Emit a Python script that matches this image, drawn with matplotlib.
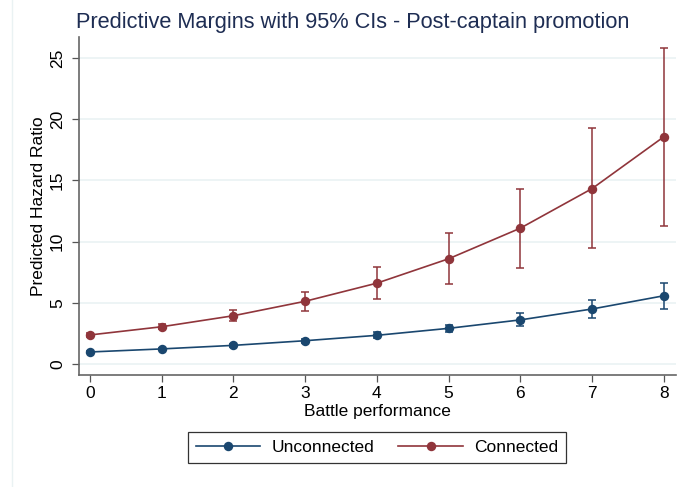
import matplotlib
matplotlib.use("Agg")
import matplotlib.pyplot as plt
from matplotlib.lines import Line2D

plt.rcParams['font.family'] = ['Liberation Sans', 'DejaVu Sans']

x = [0, 1, 2, 3, 4, 5, 6, 7, 8]
unconn = [0.98, 1.23, 1.52, 1.90, 2.34, 2.91, 3.60, 4.49, 5.57]
unconn_lo = [0.90, 1.15, 1.40, 1.74, 2.12, 2.58, 3.10, 3.73, 4.52]
unconn_hi = [1.07, 1.32, 1.65, 2.07, 2.58, 3.22, 4.13, 5.23, 6.60]
conn = [2.37, 3.04, 3.94, 5.12, 6.60, 8.59, 11.09, 14.32, 18.55]
conn_lo = [2.20, 2.86, 3.48, 4.35, 5.32, 6.50, 7.85, 9.43, 11.25]
conn_hi = [2.55, 3.23, 4.40, 5.88, 7.89, 10.67, 14.32, 19.24, 25.80]
series_names = ["Unconnected", "Connected"]
yticks = [0, 5, 10, 15, 20, 25]
title = "Predictive Margins with 95% CIs - Post-captain promotion"

navy = "#1a476f"
maroon = "#90353b"
grid_c = "#eaf2f3"

fig = plt.figure(figsize=(6.78, 4.87), dpi=100)
fig.patch.set_facecolor("white")
ax = fig.add_axes([79/678, 1-375/487, (676-79)/678, (375-37)/487])

for ys, lo, hi, c in [(unconn, unconn_lo, unconn_hi, navy), (conn, conn_lo, conn_hi, maroon)]:
    err = [[y - l for y, l in zip(ys, lo)], [h - y for y, h in zip(ys, hi)]]
    ax.errorbar(x, ys, yerr=err, fmt='none', ecolor=c, elinewidth=1.1, capsize=3.2, capthick=1.1, zorder=2)
for ys, c in [(unconn, navy), (conn, maroon)]:
    ax.plot(x, ys, color=c, lw=1.2, marker='o', markersize=6.8, markeredgewidth=0, zorder=3)

ax.set_xlim(-0.153, 8.17)
ax.set_ylim(-0.9, 26.7)
ax.set_yticks(yticks)
ax.set_xticks(x)
ax.yaxis.grid(True, color=grid_c, lw=1.2)
ax.set_axisbelow(True)
for s in ['top', 'right']:
    ax.spines[s].set_visible(False)
for s in ['left', 'bottom']:
    ax.spines[s].set_color('#666666')
    ax.spines[s].set_linewidth(1.2)
ax.tick_params(axis='both', length=5, width=0.9, color='#555555', labelsize=12.5, labelcolor='black')
ax.tick_params(axis='y', pad=5)
ax.tick_params(axis='x', pad=3)
for lab in ax.get_yticklabels():
    lab.set_rotation(90)
    lab.set_va('center')

fig.text(76/678, 1-28.3/487, title, ha='left', va='baseline', fontsize=15.7, color="#1e2d53")
fig.text(38.5/678, 1-206/487, "Predicted Hazard Ratio", rotation=90, ha='center', va='center',
         fontsize=12.5, color='black')
fig.text(377.5/678, 1-411.5/487, "Battle performance", ha='center', va='center', fontsize=12.5, color='black')

handles = [Line2D([], [], color=navy, lw=1.2, marker='o', markersize=6.8, markeredgewidth=0),
           Line2D([], [], color=maroon, lw=1.2, marker='o', markersize=6.8, markeredgewidth=0)]
leg = fig.legend(handles, series_names, loc='center', bbox_to_anchor=(377/678, 1-447.7/487), ncol=2,
                 fontsize=12.5, frameon=True, fancybox=False, edgecolor='black', handlelength=3.7,
                 handletextpad=0.65, columnspacing=1.4, borderpad=0.45, markerscale=1.0)
leg.get_frame().set_linewidth(0.9)

fig.add_artist(Line2D([12/678, 12/678], [0, 1], color=grid_c, lw=1.0))

fig.savefig("out.png", dpi=100)
